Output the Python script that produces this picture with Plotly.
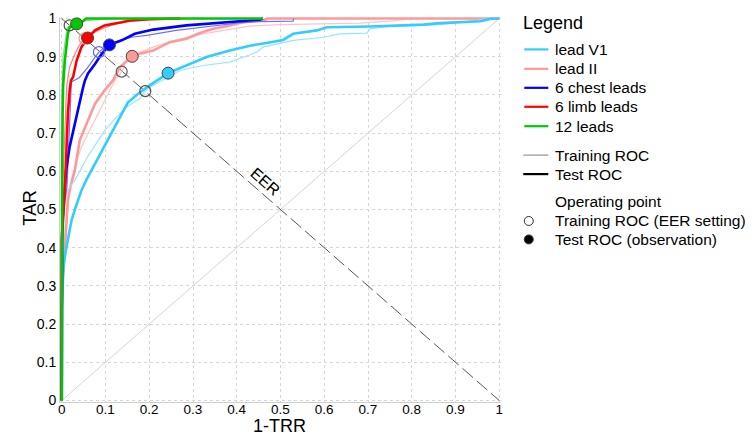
import plotly.graph_objects as go

# ---------------- data ----------------
v1_test_x = [0, 0.0, 0.002, 0.005, 0.009, 0.015, 0.022, 0.030, 0.036, 0.045, 0.055, 0.068, 0.083, 0.098, 0.117, 0.137, 0.151, 0.171, 0.201, 0.243, 0.285, 0.331, 0.384, 0.430, 0.468, 0.506, 0.529, 0.583, 0.606, 0.705, 0.827, 0.865, 0.957, 0.979, 1.0]
v1_test_y = [0, 0.25, 0.32, 0.36, 0.39, 0.43, 0.47, 0.50, 0.52, 0.55, 0.575, 0.603, 0.635, 0.664, 0.708, 0.752, 0.780, 0.800, 0.825, 0.857, 0.877, 0.899, 0.916, 0.929, 0.936, 0.944, 0.960, 0.969, 0.977, 0.979, 0.984, 0.988, 0.993, 0.999, 1.0]

v1_train_x = [0, 0.0, 0.003, 0.005, 0.007, 0.014, 0.030, 0.041, 0.060, 0.079, 0.100, 0.125, 0.150, 0.178, 0.191, 0.209, 0.240, 0.270, 0.323, 0.384, 0.430, 0.445, 0.460, 0.529, 0.598, 0.636, 0.697, 0.705, 0.743, 0.865, 0.949, 0.970, 1.0]
v1_train_y = [0, 0.30, 0.40, 0.47, 0.525, 0.551, 0.577, 0.600, 0.640, 0.673, 0.710, 0.742, 0.770, 0.790, 0.810, 0.825, 0.845, 0.864, 0.877, 0.886, 0.905, 0.912, 0.925, 0.943, 0.951, 0.960, 0.962, 0.973, 0.979, 0.984, 0.995, 1.0, 1.0]

ii_test_x = [0, 0.0, 0.003, 0.007, 0.010, 0.014, 0.020, 0.030, 0.041, 0.060, 0.076, 0.098, 0.117, 0.133, 0.161, 0.178, 0.209, 0.247, 0.285, 0.316, 0.346, 0.384, 0.415, 0.465, 0.470, 1.0]
ii_test_y = [0, 0.24, 0.32, 0.394, 0.46, 0.525, 0.56, 0.603, 0.681, 0.734, 0.777, 0.812, 0.838, 0.873, 0.901, 0.908, 0.916, 0.938, 0.947, 0.962, 0.973, 0.982, 0.990, 0.997, 1.0, 1.0]

ii_train_x = [0, 0.0, 0.003, 0.008, 0.015, 0.022, 0.035, 0.045, 0.065, 0.083, 0.106, 0.120, 0.137, 0.148, 0.175, 0.209, 0.250, 0.300, 0.350, 0.430, 0.500, 0.606, 0.682, 0.750, 0.789, 0.800, 1.0]
ii_train_y = [0, 0.26, 0.35, 0.45, 0.52, 0.577, 0.63, 0.664, 0.710, 0.751, 0.803, 0.835, 0.861, 0.890, 0.910, 0.925, 0.940, 0.955, 0.965, 0.980, 0.984, 0.986, 0.988, 0.993, 0.997, 1.0, 1.0]

chest_test_x = [0, 0.0, 0.001, 0.003, 0.007, 0.010, 0.018, 0.030, 0.037, 0.049, 0.053, 0.060, 0.076, 0.091, 0.109, 0.137, 0.167, 0.209, 0.285, 0.362, 0.415, 0.453, 0.460]
chest_test_y = [0, 0.40, 0.44, 0.50, 0.56, 0.603, 0.664, 0.725, 0.768, 0.821, 0.838, 0.856, 0.881, 0.907, 0.931, 0.943, 0.960, 0.971, 0.982, 0.989, 0.995, 0.997, 1.0]

chest_train_x = [0, 0.0, 0.003, 0.007, 0.012, 0.015, 0.018, 0.020, 0.022, 0.040, 0.060, 0.076, 0.085, 0.098, 0.121, 0.160, 0.194, 0.262, 0.354, 0.407, 0.453, 0.529, 0.530]
chest_train_y = [0, 0.42, 0.47, 0.52, 0.56, 0.65, 0.75, 0.80, 0.834, 0.845, 0.873, 0.899, 0.912, 0.925, 0.938, 0.951, 0.956, 0.969, 0.982, 0.989, 0.992, 0.993, 1.0]

limb_test_x = [0, 0.0, 0.003, 0.007, 0.011, 0.014, 0.018, 0.021, 0.026, 0.034, 0.045, 0.059, 0.076, 0.098, 0.137, 0.156, 0.200, 0.270]
limb_test_y = [0, 0.42, 0.48, 0.551, 0.664, 0.751, 0.812, 0.838, 0.847, 0.890, 0.925, 0.949, 0.969, 0.982, 0.990, 0.995, 0.998, 1.0]

limb_train_x = [0, 0.0, 0.002, 0.005, 0.008, 0.011, 0.018, 0.030, 0.040, 0.052, 0.065, 0.090, 0.120, 0.150, 0.200, 0.280]
limb_train_y = [0, 0.45, 0.55, 0.65, 0.75, 0.821, 0.873, 0.907, 0.930, 0.948, 0.958, 0.972, 0.985, 0.992, 0.997, 1.0]

all12_test_x = [0, 0.0, 0.001, 0.002, 0.003, 0.007, 0.011, 0.014, 0.018, 0.034, 0.045, 0.056, 0.460]
all12_test_y = [0, 0.38, 0.60, 0.75, 0.821, 0.890, 0.934, 0.960, 0.977, 0.986, 0.990, 1.0, 1.0]

all12_train_x = [0, 0.0, 0.001, 0.003, 0.008, 0.012, 0.018, 0.030, 0.049, 0.080, 0.100, 0.460]
all12_train_y = [0, 0.45, 0.80, 0.90, 0.95, 0.975, 0.982, 0.988, 0.993, 0.997, 1.0, 1.0]

series_names = ["lead V1", "lead II", "6 chest leads", "6 limb leads", "12 leads"]
# operating points (order as series_names)
eer_x = [0.191, 0.137, 0.085, 0.052, 0.018]
eer_y = [0.810, 0.861, 0.912, 0.948, 0.982]
obs_x = [0.243, 0.161, 0.109, 0.059, 0.034]
obs_y = [0.857, 0.901, 0.931, 0.949, 0.986]

x_ticks = [0, 0.1, 0.2, 0.3, 0.4, 0.5, 0.6, 0.7, 0.8, 0.9, 1]
tick_text = ["0", "0.1", "0.2", "0.3", "0.4", "0.5", "0.6", "0.7", "0.8", "0.9", "1"]

# reference lines
eer_line_x = [0, 1]
eer_line_y = [1, 0]
chance_x = [0, 1]
chance_y = [0, 1]

# ---------------- styles ----------------
test_col = {"lead V1": "#33CCFF", "lead II": "#FF9999", "6 chest leads": "#0000FF",
            "6 limb leads": "#FF0000", "12 leads": "#00C800"}
train_col = {"lead V1": "#99E5FF", "lead II": "#FFC4C4", "6 chest leads": "#7070FF",
             "6 limb leads": "#FF8080", "12 leads": "#80E080"}
eer_edge = {"lead V1": "#505050", "lead II": "#606060", "6 chest leads": "#6060FF",
            "6 limb leads": "#FF9090", "12 leads": "#505050"}

curves = {
    "lead V1": (v1_train_x, v1_train_y, v1_test_x, v1_test_y),
    "lead II": (ii_train_x, ii_train_y, ii_test_x, ii_test_y),
    "6 chest leads": (chest_train_x, chest_train_y, chest_test_x, chest_test_y),
    "6 limb leads": (limb_train_x, limb_train_y, limb_test_x, limb_test_y),
    "12 leads": (all12_train_x, all12_train_y, all12_test_x, all12_test_y),
}
draw_order = ["lead II", "lead V1", "6 chest leads", "6 limb leads", "12 leads"]

FONT = "Liberation Sans, Arial, sans-serif"
OFF = 8                      # page body margin of the browser
W, H = 746, 429
L, T = 52.25, 8.5
PW, PH = 440.5, 386.0
R = W - L - PW
B = H - T - PH

fig = go.Figure()

fig.add_trace(go.Scatter(x=chance_x, y=chance_y, mode="lines",
                         line=dict(color="#d4d4d4", width=1), hoverinfo="skip"))
fig.add_trace(go.Scatter(x=eer_line_x, y=eer_line_y, mode="lines",
                         line=dict(color="#555555", width=1, dash="14px,5px"), hoverinfo="skip"))

for name in draw_order:
    trx, tr_y, tex, tey = curves[name]
    fig.add_trace(go.Scatter(x=trx, y=tr_y, mode="lines", name=name + " training",
                             line=dict(color=train_col[name], width=1.2)))
    fig.add_trace(go.Scatter(x=tex, y=tey, mode="lines", name=name + " test",
                             line=dict(color=test_col[name], width=2.6)))

for i, name in enumerate(series_names):
    fig.add_trace(go.Scatter(x=[eer_x[i]], y=[eer_y[i]], mode="markers",
                             marker=dict(size=11, color="rgba(255,255,255,0)",
                                         line=dict(color=eer_edge[name], width=1.2)),
                             cliponaxis=False))
for i, name in enumerate(series_names):
    fig.add_trace(go.Scatter(x=[obs_x[i]], y=[obs_y[i]], mode="markers",
                             marker=dict(size=12, color=test_col[name],
                                         line=dict(color="#444444", width=1)),
                             cliponaxis=False))

axis_common = dict(range=[-0.004, 1.004], tickvals=x_ticks, ticktext=tick_text,
                   showgrid=True, gridcolor="#d6d6d6", griddash="dot", gridwidth=1,
                   zeroline=False, showline=True, linecolor="#cfcfcf", linewidth=1,
                   ticks="", ticklen=0, automargin=False)

fig.update_layout(
    width=W, height=H,
    margin=dict(l=L, r=R, t=T, b=B, autoexpand=False),
    plot_bgcolor="white", paper_bgcolor="white",
    showlegend=False,
    font=dict(family=FONT, color="black"),
    xaxis=dict(**axis_common, ticklabelstandoff=-5,
               tickfont=dict(size=13.5, family=FONT, color="black")),
    yaxis=dict(**axis_common, ticklabelstandoff=0,
               tickfont=dict(size=14, family=FONT, color="black")),
)

def px(xp):
    return (xp - OFF - L) / PW

def py(yp):
    return (H - B - (yp - OFF)) / PH

# axis titles
fig.add_annotation(x=px(280), y=py(426.5), xref="paper", yref="paper", text="1-TRR",
                   showarrow=False, xanchor="center", yanchor="middle", borderpad=0,
                   font=dict(size=18, family=FONT, color="black"))
fig.add_annotation(x=px(29), y=py(208), xref="paper", yref="paper", text="TAR",
                   showarrow=False, xanchor="center", yanchor="middle", textangle=-90,
                   borderpad=0, font=dict(size=18.5, family=FONT, color="black"))

# EER label on the EER line
fig.add_annotation(x=0.465, y=0.574, xref="x", yref="y", text="EER", showarrow=False,
                   textangle=41, font=dict(size=16, family=FONT, color="black"))

# ---------------- manual legend ----------------
fig.add_annotation(x=px(521), y=py(23), xref="paper", yref="paper", text="Legend",
                   showarrow=False, xanchor="left", yanchor="middle",
                   font=dict(size=18, family=FONT, color="black"))

legend_rows = [49, 68.5, 87.5, 106.5, 126]
for row, name in zip(legend_rows, series_names):
    fig.add_shape(type="line", xref="paper", yref="paper", x0=px(524), x1=px(548),
                  y0=py(row), y1=py(row), line=dict(color=test_col[name], width=2.2))
    fig.add_annotation(x=px(553), y=py(row), xref="paper", yref="paper", text=name,
                       showarrow=False, xanchor="left", yanchor="middle",
                       font=dict(size=15.5, family=FONT, color="black"))

for row, lab, col, wd in [(155, "Training ROC", "#a8a8a8", 1.5), (174, "Test ROC", "#000000", 2.2)]:
    fig.add_shape(type="line", xref="paper", yref="paper", x0=px(523), x1=px(548),
                  y0=py(row), y1=py(row), line=dict(color=col, width=wd))
    fig.add_annotation(x=px(553), y=py(row), xref="paper", yref="paper", text=lab,
                       showarrow=False, xanchor="left", yanchor="middle",
                       font=dict(size=15.5, family=FONT, color="black"))

fig.add_annotation(x=px(553), y=py(201.5), xref="paper", yref="paper", text="Operating point",
                   showarrow=False, xanchor="left", yanchor="middle",
                   font=dict(size=15.5, family=FONT, color="black"))
for row, lab, fill in [(221, "Training ROC (EER setting)", "white"), (239.5, "Test ROC (observation)", "black")]:
    fig.add_shape(type="circle", xref="paper", yref="paper", xsizemode="pixel", ysizemode="pixel",
                  xanchor=px(528.5), yanchor=py(row), x0=-4.5, x1=4.5, y0=-4.5, y1=4.5,
                  fillcolor=fill, line=dict(color="#333333", width=1))
    fig.add_annotation(x=px(553), y=py(row), xref="paper", yref="paper", text=lab,
                       showarrow=False, xanchor="left", yanchor="middle",
                       font=dict(size=15.5, family=FONT, color="black"))

fig.write_html("out.html")
